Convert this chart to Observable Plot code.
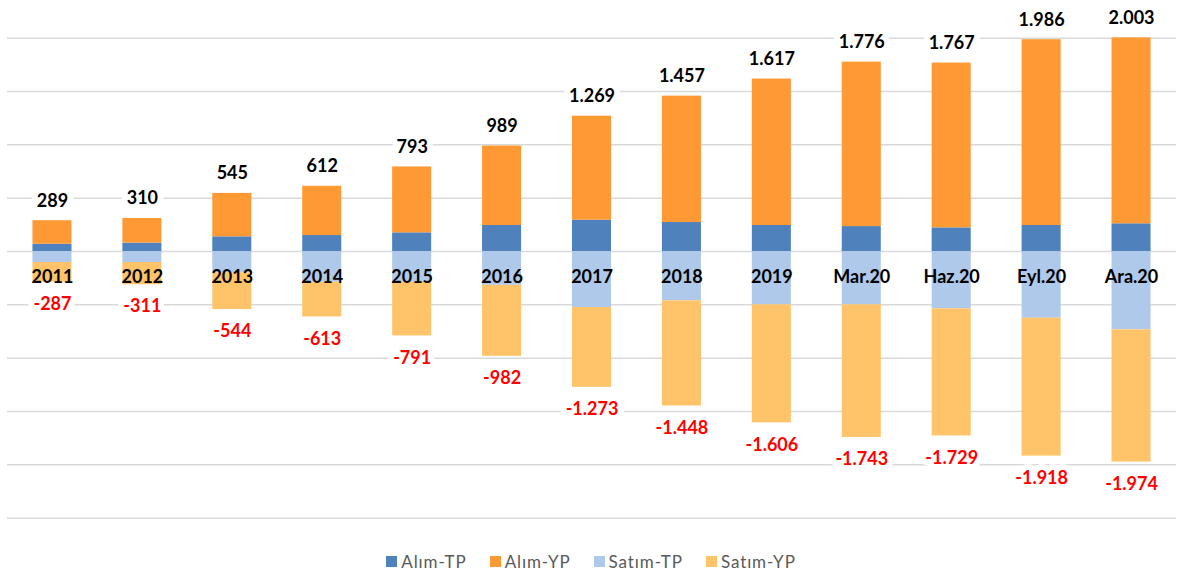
<!DOCTYPE html>
<html>
<head>
<meta charset="utf-8">
<script src="https://cdn.jsdelivr.net/npm/d3@7"></script>
<script src="https://cdn.jsdelivr.net/npm/@observablehq/plot@0.6"></script>
<style>
  html, body { margin: 0; padding: 0; background: #fff; }
  #chart svg { display: block; }
  .legend { display: flex; justify-content: center; align-items: center; height: 22px; margin-top: 10px;
            font-family: Lato, "Open Sans", sans-serif; font-size: 17px; letter-spacing: 0.9px; color: #595959; }
  .legend .item { display: flex; align-items: center; margin: 0 11.5px; }
  .legend .sw { width: 11px; height: 11px; margin-right: 4px; }
</style>
</head>
<body>
<div id="chart"></div>
<div class="legend" id="legend"></div>
<script>
const categories = ["2011","2012","2013","2014","2015","2016","2017","2018","2019","Mar.20","Haz.20","Eyl.20","Ara.20"];
const seriesNames = ["Alım-TP","Alım-YP","Satım-TP","Satım-YP"];
const seriesColors = ["#4F81BD","#FF9933","#AFC9EA","#FFC469"];

const alimTP   = [69, 79, 138, 150, 175, 244, 294, 272, 244, 234, 222, 244, 260];
const alimYP   = [220, 231, 407, 462, 618, 745, 975, 1185, 1373, 1542, 1545, 1742, 1743];
const satimTP  = [-103, -103, -200, -288, -288, -317, -525, -462, -500, -500, -537, -625, -734];
const satimYP  = [-184, -208, -344, -325, -503, -665, -748, -986, -1106, -1243, -1192, -1293, -1240];

const alimTotal  = [289, 310, 545, 612, 793, 989, 1269, 1457, 1617, 1776, 1767, 1986, 2003];
const satimTotal = [-287, -311, -544, -613, -791, -982, -1273, -1448, -1606, -1743, -1729, -1918, -1974];

const gridTicks = [-2500, -2000, -1500, -1000, -500, 0, 500, 1000, 1500, 2000];

const seriesValues = [alimTP, alimYP, satimTP, satimYP];
const rows = [];
seriesNames.forEach((s, si) => categories.forEach((c, ci) => rows.push({cat: c, series: s, value: seriesValues[si][ci]})));

const fmt = v => {
  const sign = v < 0 ? "-" : "";
  const a = Math.abs(v);
  return sign + (a >= 1000 ? Math.floor(a / 1000) + "." + String(a % 1000).padStart(3, "0") : String(a));
};

const idx = categories.map((_, i) => i);
const labelFont = "Lato, 'Open Sans', sans-serif";

const chart = Plot.plot({
  width: 1182,
  height: 540,
  marginLeft: 7,
  marginRight: 6,
  marginTop: 37.7,
  marginBottom: 22.3,
  x: {type: "band", domain: categories, paddingInner: 0.566, paddingOuter: 0.283, round: false, axis: null},
  y: {domain: [-2500, 2000], axis: null},
  color: {domain: seriesNames, range: seriesColors},
  style: {fontFamily: labelFont, background: "#fff"},
  marks: [
    Plot.ruleY(gridTicks, {stroke: "#D9D9D9", strokeWidth: 1.5}),
    Plot.barY(rows, {x: "cat", y: "value", fill: "series"}),
    Plot.text(idx, {x: i => categories[i], y: i => alimTotal[i], text: i => fmt(alimTotal[i]),
      lineAnchor: "bottom", dy: -14, fontSize: 18, fontWeight: "bold", fill: "#000",
      stroke: "#fff", strokeWidth: 12}),
    Plot.text(idx, {x: i => categories[i], y: i => satimTotal[i], text: i => fmt(satimTotal[i]),
      lineAnchor: "top", dy: 15, fontSize: 18, fontWeight: "bold", fill: "#FF0000",
      stroke: "#fff", strokeWidth: 12}),
    Plot.text(idx, {x: i => categories[i], y: () => 0, text: i => categories[i],
      lineAnchor: "middle", dy: 26, fontSize: 18, fontWeight: "bold", fill: "#000"})
  ]
});
document.getElementById("chart").appendChild(chart);

const legend = document.getElementById("legend");
seriesNames.forEach((s, i) => {
  const item = document.createElement("div");
  item.className = "item";
  const sw = document.createElement("div");
  sw.className = "sw";
  sw.style.background = seriesColors[i];
  const t = document.createElement("span");
  t.textContent = s;
  item.appendChild(sw);
  item.appendChild(t);
  legend.appendChild(item);
});
</script>
</body>
</html>
